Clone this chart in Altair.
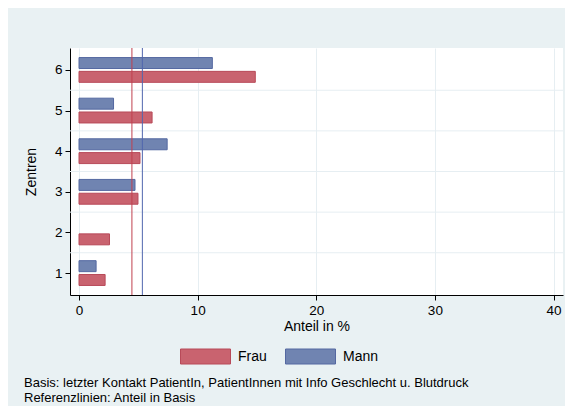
import altair as alt
import pandas as pd

zentren = [1, 2, 3, 4, 5, 6]
frau = [2.20, 2.57, 4.97, 5.14, 6.16, 14.86]
mann = [1.44, None, 4.72, 7.43, 2.91, 11.24]
basis_geschlecht = ["Frau", "Mann"]
basis_werte = [4.46, 5.34]
notes = [
    "Basis: letzter Kontakt PatientIn, PatientInnen mit Info Geschlecht u. Blutdruck",
    "Referenzlinien: Anteil in Basis",
]

rows = []
for z, f, m in zip(zentren, frau, mann):
    if f is not None:
        rows.append({"Zentrum": z, "Geschlecht": "Frau", "Anteil": f})
    if m is not None:
        rows.append({"Zentrum": z, "Geschlecht": "Mann", "Anteil": m})
df = pd.DataFrame(rows)
ref = pd.DataFrame({"Geschlecht": basis_geschlecht, "Anteil": basis_werte})

FONT = "Liberation Sans"
fill_scale = alt.Scale(domain=["Frau", "Mann"], range=["#C9636F", "#7084B1"])
stroke_scale = alt.Scale(domain=["Frau", "Mann"], range=["#B84A59", "#5468A1"])
xscale = alt.Scale(domain=[-0.76, 40.8], nice=False, zero=False)
yscale = alt.Scale(domain=[0.46, 6.54], nice=False, zero=False)

base = alt.Chart(df).transform_calculate(
    off="datum.Geschlecht == 'Mann' ? 0.17 : -0.17"
).transform_calculate(
    y0="datum.Zentrum + datum.off - 0.135", y1="datum.Zentrum + datum.off + 0.135"
)

bars = base.mark_bar(strokeWidth=1).encode(
    x=alt.X("x0:Q", scale=xscale,
            axis=alt.Axis(values=[0, 10, 20, 30, 40], title="Anteil in %", grid=True,
                          gridColor="#E6EEF2", format="d", titlePadding=3)),
    x2="Anteil:Q",
    y=alt.Y("y0:Q", scale=yscale,
            axis=alt.Axis(values=[1, 2, 3, 4, 5, 6], title="Zentren", grid=False, format="d",
                          titlePadding=16)),
    y2="y1:Q",
    fill=alt.Fill("Geschlecht:N", scale=fill_scale,
                  legend=alt.Legend(orient="none", legendX=110, legendY=283, direction="horizontal",
                                    title=None, symbolType="M-1,-0.3H1V0.3H-1Z", symbolSize=2500,
                                    symbolStrokeWidth=1, labelFontSize=14, labelFont=FONT,
                                    labelColor="#000000", columnPadding=16, labelOffset=7)),
    stroke=alt.Stroke("Geschlecht:N", scale=stroke_scale, legend=None),
).transform_calculate(x0="0")

grid = alt.Chart(pd.DataFrame({"g": [1.5, 2.5, 3.5, 4.5, 5.5]})).mark_rule(
    color="#E6EEF2", strokeWidth=1
).encode(y=alt.Y("g:Q", scale=yscale, axis=None))

rules = alt.Chart(ref).mark_rule(strokeWidth=1).encode(
    x=alt.X("Anteil:Q", scale=xscale),
    color=alt.Color("Geschlecht:N", scale=alt.Scale(domain=["Frau", "Mann"], range=["#C0404F", "#5066AE"]), legend=None),
)

notes_df = pd.DataFrame({"t": notes, "i": [0, 1]})
note_layer = alt.Chart(notes_df).mark_text(
    align="left", baseline="alphabetic", font=FONT, fontSize=13, color="#000000"
).encode(
    x=alt.value(-46),
    y=alt.Y("i:Q", scale=alt.Scale(domain=[0, 1], range=[339, 354]), axis=None),
    text="t:N",
)

chart = alt.layer(grid, bars, rules, note_layer).resolve_scale(
    color="independent", y="independent"
).properties(
    width=493, height=247, background="#E9F1F3",
    autosize=alt.AutoSizeParams(type="none"),
    padding={"left": 62, "top": 40, "right": 2, "bottom": 111},
).configure_view(fill="#FFFFFF", stroke=None).configure_axis(
    labelFont=FONT, titleFont=FONT, labelFontSize=13.5, titleFontSize=14,
    titleFontWeight="normal", labelColor="#000000", titleColor="#000000",
    domainColor="#000000", tickColor="#000000", tickSize=5, domainWidth=1,
    labelPadding=3,
)

chart.save("out.html", embed_options={"renderer": "svg", "actions": False})
